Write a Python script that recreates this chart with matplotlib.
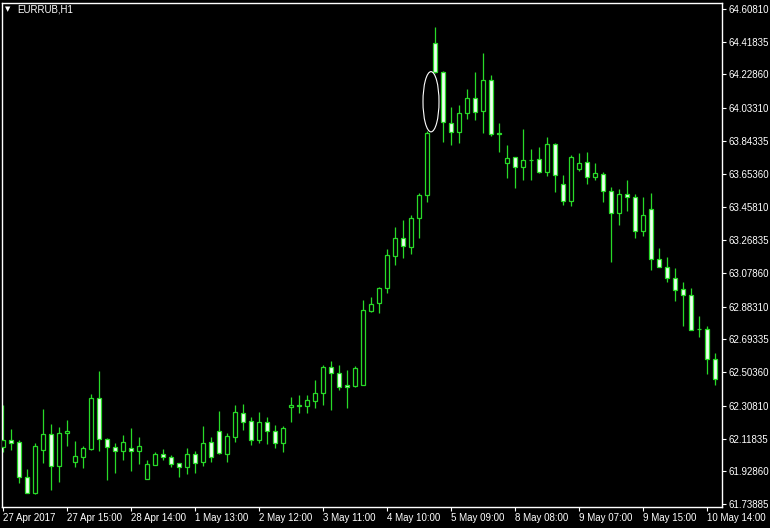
import matplotlib
matplotlib.use('Agg')
import matplotlib.pyplot as plt
from matplotlib.patches import Rectangle, Ellipse

symbol = 'EURRUB,H1'

opens = [62.069, 62.110, 62.100, 61.894, 61.804, 62.054, 62.143, 61.961, 62.149, 61.984,
         62.013, 62.058, 62.352, 62.114, 62.071, 62.048, 62.062, 62.048, 61.882, 61.965,
         62.029, 62.010, 61.975, 61.955, 62.029, 61.984, 62.097, 62.162, 62.029, 62.129,
         62.265, 62.220, 62.110, 62.212, 62.164, 62.094, 62.299, 62.313, 62.307, 62.338,
         62.384, 62.535, 62.500, 62.429, 62.423, 62.430, 62.859, 62.902, 62.989, 63.176,
         63.279, 63.230, 63.395, 63.530, 64.409, 64.243, 63.946, 63.893, 64.004, 64.090,
         64.019, 64.197, 63.889, 63.714, 63.749, 63.694, 63.733, 63.737, 63.665, 63.826,
         63.594, 63.497, 63.679, 63.720, 63.633, 63.652, 63.555, 63.424, 63.536, 63.517,
         63.323, 63.447, 63.157, 63.111, 63.047, 62.983, 62.950, 62.756, 62.756, 62.578]
highs = [62.313, 62.172, 62.110, 61.940, 62.091, 62.288, 62.203, 62.187, 62.226, 62.104,
         62.075, 62.376, 62.512, 62.120, 62.094, 62.139, 62.181, 62.126, 61.994, 62.041,
         62.056, 62.023, 61.978, 62.062, 62.046, 62.193, 62.129, 62.280, 62.149, 62.313,
         62.319, 62.241, 62.274, 62.245, 62.197, 62.193, 62.357, 62.371, 62.371, 62.458,
         62.545, 62.568, 62.545, 62.516, 62.539, 62.921, 62.937, 62.998, 63.215, 63.346,
         63.385, 63.414, 63.540, 63.901, 64.506, 64.246, 64.042, 64.052, 64.143, 64.245,
         64.355, 64.226, 63.946, 63.820, 63.749, 63.911, 63.795, 63.810, 63.864, 63.830,
         63.646, 63.762, 63.772, 63.781, 63.717, 63.665, 63.578, 63.563, 63.617, 63.536,
         63.520, 63.540, 63.221, 63.169, 63.105, 63.027, 62.989, 62.829, 62.771, 62.612]
lows = [62.040, 62.052, 61.861, 61.801, 61.797, 61.978, 61.820, 61.868, 62.075, 61.955,
        61.946, 62.052, 62.048, 61.878, 61.920, 61.994, 61.932, 61.971, 61.882, 61.965,
        61.994, 61.952, 61.897, 61.913, 61.919, 61.959, 61.984, 62.029, 61.984, 62.100,
        62.168, 62.081, 62.091, 62.087, 62.062, 62.042, 62.216, 62.265, 62.265, 62.295,
        62.313, 62.284, 62.400, 62.294, 62.419, 62.428, 62.854, 62.848, 62.964, 63.124,
        63.167, 63.188, 63.279, 63.491, 64.240, 63.839, 63.820, 63.830, 63.969, 63.965,
        63.888, 63.872, 63.781, 63.627, 63.569, 63.617, 63.617, 63.656, 63.640, 63.549,
        63.472, 63.466, 63.671, 63.594, 63.617, 63.491, 63.143, 63.356, 63.439, 63.279,
        63.292, 63.095, 63.110, 63.027, 62.917, 62.771, 62.745, 62.705, 62.492, 62.429]
closes = [62.110, 62.094, 61.894, 61.804, 62.073, 62.143, 61.961, 62.149, 62.162, 62.017,
          62.062, 62.352, 62.114, 62.068, 62.048, 62.098, 62.048, 62.075, 61.969, 62.029,
          62.010, 61.971, 61.955, 62.029, 61.979, 62.091, 62.013, 62.033, 62.133, 62.270,
          62.216, 62.110, 62.212, 62.164, 62.094, 62.178, 62.313, 62.307, 62.342, 62.381,
          62.533, 62.500, 62.415, 62.415, 62.525, 62.863, 62.896, 62.989, 63.182, 63.279,
          63.234, 63.395, 63.530, 63.888, 64.245, 63.955, 63.893, 64.004, 64.090, 64.013,
          64.197, 63.881, 63.886, 63.743, 63.694, 63.733, 63.730, 63.665, 63.826, 63.646,
          63.497, 63.752, 63.717, 63.633, 63.656, 63.555, 63.424, 63.536, 63.517, 63.323,
          63.414, 63.157, 63.111, 63.047, 62.979, 62.950, 62.747, 62.754, 62.578, 62.462]

x_tick_pos = [0, 8, 16, 24, 32, 40, 48, 56, 64, 72, 80, 88]
x_tick_labels = ['27 Apr 2017', '27 Apr 15:00', '28 Apr 14:00', '1 May 13:00',
                 '2 May 12:00', '3 May 11:00', '4 May 10:00', '5 May 09:00',
                 '8 May 08:00', '9 May 07:00', '9 May 15:00', '10 May 14:00']
y_tick_labels = ['64.60810', '64.41835', '64.22860', '64.03310', '63.84335', '63.65360',
                 '63.45810', '63.26835', '63.07860', '62.88310', '62.69335', '62.50360',
                 '62.30810', '62.11835', '61.92860', '61.73885']

# the gap up between bar 53 and bar 54 is circled on the chart
gap_bars = (53, 54)

GREEN = '#28da28'
BEAR_FILL = '#eefff0'
FONT = 'Liberation Sans'

fig = plt.figure(figsize=(7.7, 5.28), dpi=100, facecolor='black')
ax = fig.add_axes([2 / 770, 1 - 506.5 / 528, 720 / 770, 503.5 / 528])
ax.set_facecolor('black')

n = len(opens)
ax.vlines(range(n), lows, highs, color=GREEN, lw=0.9, zorder=2)
for i in range(n):
    o, c = opens[i], closes[i]
    bottom = min(o, c)
    height = max(abs(c - o), 0.0005)
    face = 'black' if c >= o else BEAR_FILL
    ax.add_patch(Rectangle((i - 0.28, bottom), 0.56, height, facecolor=face,
                           edgecolor=GREEN, lw=0.9, zorder=3))

a, b = gap_bars
ax.add_patch(Ellipse(((a + b) / 2, (highs[a] + lows[b]) / 2), 2.0,
                     lows[b] - highs[a] + 0.01, fill=False, edgecolor='white',
                     lw=0.8, zorder=4))

ax.set_xlim(-0.125, 89.875)
ax.set_ylim(61.7244, 64.6429)

for s in ax.spines.values():
    s.set_color('white')
    s.set_linewidth(1.0)

ax.yaxis.tick_right()
ax.set_yticks([float(v) for v in y_tick_labels])
ax.set_yticklabels(y_tick_labels)
ax.set_xticks(x_tick_pos)
ax.set_xticklabels(x_tick_labels)
ax.tick_params(axis='both', colors='white', length=3, width=0.8, labelsize=7)
ax.tick_params(axis='y', pad=2)
ax.tick_params(axis='x', pad=2)
for lab in ax.get_xticklabels():
    lab.set_ha('left')
    lab.set_fontfamily(FONT)
for lab in ax.get_yticklabels():
    lab.set_fontfamily(FONT)

ax.text(0.004, 0.987, '\u25bc', transform=ax.transAxes, color='white',
        fontsize=5, va='center', ha='left', family='DejaVu Sans')
ax.text(0.021, 0.987, symbol, transform=ax.transAxes, color='white',
        fontsize=7, va='center', ha='left', family=FONT)

fig.savefig('out.png', dpi=100, facecolor='black')
